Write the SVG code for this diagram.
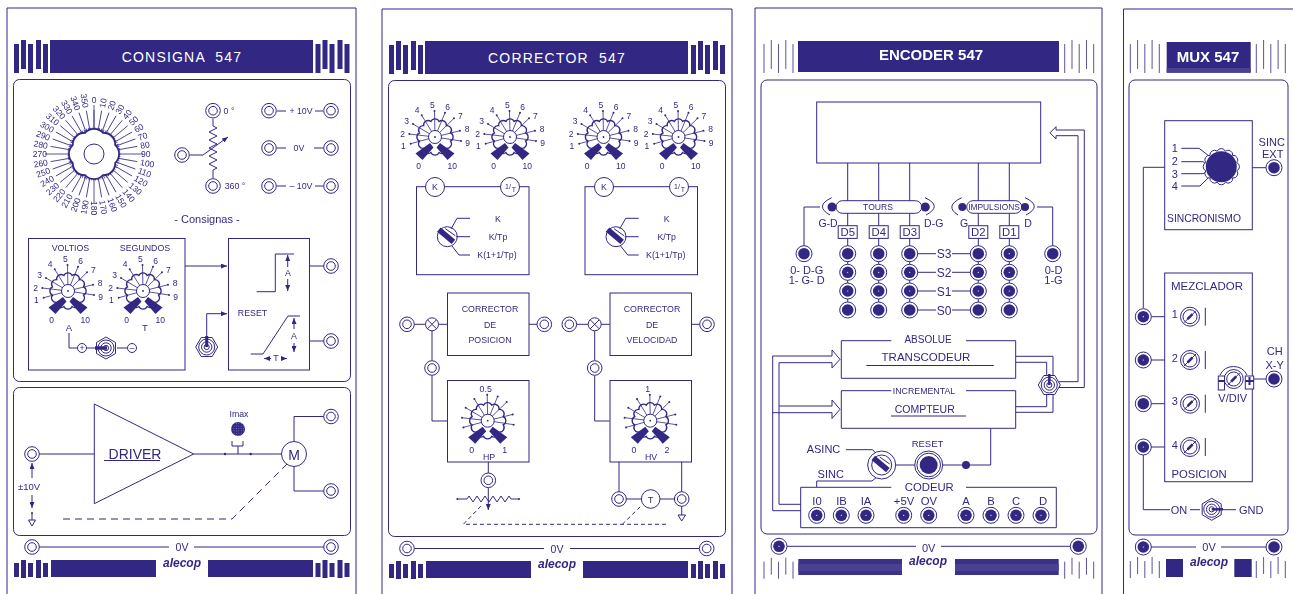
<svg xmlns="http://www.w3.org/2000/svg" width="1293" height="594" viewBox="0 0 1293 594">
<style>
text{font-family:"Liberation Sans",Arial,sans-serif;fill:#312783;text-anchor:middle}
.l{fill:none;stroke:#312783;stroke-width:1}
.n{fill:#fff;stroke:#312783;stroke-width:1}
.d{fill:#312783}
.h{font-size:14px;fill:#fff;white-space:pre;letter-spacing:1.2px}
.hb{font-size:15px;fill:#fff;font-weight:bold}
.a{marker-end:url(#ar)}
.kn{font-size:8.5px}
.f7{font-size:7px}.f8{font-size:8.800px}.f9{font-size:9.500px}.f105{font-size:10.500px}.f10{font-size:11px}.f11{font-size:11.300px}.f12{font-size:12px}
.s{text-anchor:start;font-size:8.5px}.e{text-anchor:end;font-size:8.5px}
.logo{font-size:12px;font-weight:bold;font-style:italic}
</style>
<defs>
<marker id="ar" markerUnits="userSpaceOnUse" markerWidth="6" markerHeight="5" refX="6" refY="2.5" orient="auto"><path d="M0 0L6 2.5L0 5z" fill="#312783"/></marker>
<g id="jack"><circle class="n" r="7.3"/><circle class="n" r="4.3"/></g>
<g id="jf"><circle class="n" r="8"/><circle class="d" r="5.8"/></g>
<g id="jd"><circle class="n" r="8"/><circle class="d" r="5.8"/><circle r=".6" fill="#fff"/></g>
<g id="hex"><polygon class="n" points="11,0 5.5,9.5 -5.5,9.5 -11,0 -5.5,-9.5 5.5,-9.5"/><circle class="l" r="8"/><circle class="l" r="5.2"/><circle class="l" r="2.6"/></g>
<g id="knob">
<path class="n" style="stroke-width:1.3" d="M4.100-15.500A4.500 4.500 0 0 1 11.300-11.300A4.500 4.500 0 0 1 15.500-4.100A4.500 4.500 0 0 1 15.500 4.100A4.500 4.500 0 0 1 11.300 11.300A4.500 4.500 0 0 1 4.100 15.500A4.500 4.500 0 0 1-4.100 15.500A4.500 4.500 0 0 1-11.300 11.300A4.500 4.500 0 0 1-15.500 4.100A4.500 4.500 0 0 1-15.500-4.100A4.500 4.500 0 0 1-11.300-11.300A4.500 4.500 0 0 1-4.100-15.500A4.500 4.500 0 0 1 4.100-15.500z"/>
<path class="l" style="stroke-width:.8" d="M0 0L-24.3 6.7M0 0L-25.7-3M0 0L-22-13M0 0L-13.3-21.7M0 0L-.5-26M0 0L10-24.3M0 0L19-18.7M0 0L25-6.3M0 0L26 4"/>
<g class="d"><circle cx="-24.3" cy="6.7" r="1"/><circle cx="-25.7" cy="-3" r="1"/><circle cx="-22" cy="-13" r="1"/><circle cx="-13.3" cy="-21.7" r="1"/><circle cx="-.5" cy="-26" r="1"/><circle cx="10" cy="-24.3" r="1"/><circle cx="19" cy="-18.7" r="1"/><circle cx="25" cy="-6.3" r="1"/><circle cx="26" cy="4" r="1"/></g>
<circle class="n" r="6.5"/><circle class="d" r=".9"/>
<polygon class="d" points="-5,6 -1.5,10.5 -12.5,23 -19.5,16.5"/>
<polygon class="d" points="5,6 1.5,10.5 12.5,23 19.5,16.5"/>
</g>
<g id="sel"><circle class="n" r="10"/><rect class="d" x="-11" y="-2.8" width="19" height="5.6" transform="rotate(40)"/><path class="l" d="M-2-8L8-1"/></g>
<g id="trim"><circle class="n" r="9.5"/><circle class="l" r="7"/><path class="l" d="M-6 6L6-6"/><path d="M-2.5 2.5L2.5-2.5" stroke="#312783" stroke-width="2.5"/></g>
<g id="bt"><rect class="d" x="0" y="4" width="5" height="29"/><rect class="d" x="7" y="0" width="5" height="29"/><rect class="d" x="14" y="4" width="5" height="29"/><rect class="d" x="22" y="0" width="5" height="29"/><rect class="d" x="29" y="4" width="5" height="29"/></g>
<g id="bb"><rect class="d" x="0" y="3" width="5" height="14"/><rect class="d" x="7" y="0" width="5" height="18"/><rect class="d" x="14" y="3" width="5" height="14"/><rect class="d" x="22" y="0" width="5" height="18"/><rect class="d" x="29" y="3" width="5" height="14"/></g>
<path id="lt" fill="none" stroke="#312783" stroke-width=".8" d="M0 4V33M7.3 0V29M14.5 4V33M21.8 0V29M29 4V33"/>
<path id="lb" fill="none" stroke="#312783" stroke-width=".8" d="M0 4V21M7.3 0V17M14.5 4V21M21.8 0V17M29 4V21"/>
<pattern id="dots" width="2.4" height="2.4" patternUnits="userSpaceOnUse"><rect width="2.4" height="2.4" fill="#312783"/><circle cx="1.2" cy="1.2" r=".5" fill="#8a84bd"/></pattern>
</defs>
<g opacity=".995">
<g id="panels">
<path class="l" d="M7 594V8H356V594"/>
<path class="l" d="M382 594V9H732V594"/>
<path class="l" d="M755 594V8H1102V594"/>
<path class="l" d="M1123.5 594V9H1293"/>
<rect class="l" x="13.500" y="79.500" width="337" height="302" rx="6"/>
<rect class="l" x="13.500" y="387.500" width="337" height="148" rx="6"/>
<rect class="l" x="388.500" y="80.500" width="337" height="456" rx="6"/>
<rect class="l" x="761" y="80" width="336" height="454" rx="6"/>
<rect class="l" x="1129" y="80" width="159" height="455" rx="6"/>
</g>

<g id="connectors">
<path class="l" d="M213 119V126l4 2-8 4 8 4-8 4 8 4-8 4 8 4-8 4 8 4-8 4 8 4-4 2V178"/>
<path class="l a" d="M190 155H203L228 137"/>
<path class="l" d="M277 111H286M315 111H323M277 148H286M314 148H323M277 186H286M315 186H323"/>
<path class="l a" d="M185 266H227"/>
<path class="l" d="M309.500 266H324M309.500 341H324"/>
<path class="l" d="M256.700 291.700H275.300V254H294M250.700 354H263L288 316H300"/>
<path class="l a" d="M287.700 267V255"/><path class="l a" d="M287.700 279V291"/>
<path class="l a" d="M294 329V318"/><path class="l a" d="M294 343V352"/>
<path class="l a" d="M271 358.500H264"/><path class="l a" d="M281 358.500H287"/>
<path class="l" d="M69 333V348H77M87 348H95M117 348H127"/>
<path class="l a" d="M206.700 340V313.700H227"/>
<path class="l" d="M39 454H94M193.700 454H281.500M232 441V446H243V441M238 446V454M294 441V416.500H324M294 467V491H324"/>
<path class="l a" d="M32 478V463"/><path class="l a" d="M32 495V508"/>
<path class="l" d="M32 513V520"/>
<path class="l" stroke-dasharray="7 5" d="M63 519H232L288 463"/>
<path class="l" d="M39 547H169M194 547H324"/>
<path class="l" d="M414 324.300H425.500M438.500 324.300H447.300M529 324.300H537M577 324.300H588M601 324.300H609.700M691.300 324.300H700"/>
<path class="l" d="M432 331V360.500M432 375.500V421H447.300M594.700 331V360.500M594.700 375.500V421H609.700"/>
<path class="l" d="M488.300 461.700V473"/>
<path class="l" d="M457.300 499H467l2-3 4 6 4-6 4 6 4-6 4 6 4-6 4 6 4-6 4 6 4-6 2 3H519"/>
<path class="l a" d="M488.300 488V510"/>
<path class="l" d="M619 461.700V492M681.700 461.700V492M626 499H641.500M660 499H675M681.700 506V515"/>
<path class="l" stroke-dasharray="4 3" d="M666 524.300H463.300L482 505M622.300 524.300L641 506"/>
<path class="l" d="M414 548.500H544M570 548.500H699"/>
<path class="l" d="M847.700 163V226M878.700 163V226M909.700 163V226M978.300 163V226M1009.300 163V226"/>
<path class="l" d="M847.700 238V310M878.700 238V310M909.700 238V310M978.300 238V310M1009.300 238V310"/>
<path class="l" d="M909.700 253.700H936M952 253.700H978.300M909.700 272.300H936M952 272.300H978.300M909.700 291H936M952 291H978.300M909.700 310H936M952 310H978.300"/>
<path class="l" d="M820 207H804V246M1037 207H1052.700V246"/>
<path class="l" d="M1056 130H1084.300V387.500H1058M1056 135.700H1078V381.700H1058"/>
<path class="l" d="M832 356H772.700V510.700H800.700M832 362.700H779V504.300H800.700M779 406H832M772.700 412.700H832"/>
<path class="l" d="M1015.700 356.300H1053V412.300H1015.700M1015.700 362.300H1046.700V406.700H1015.700"/>
<path class="l" d="M990.700 428.300V465H942M915 465H895"/>
<path class="l" d="M846 449.700H872.700L878 456M816.700 487V481H872L878 476"/>
<path class="l" d="M787 546.300H916M941 546.300H1070"/>
<path class="l" d="M1164.700 167.300H1143.300V308M1252.300 167.700H1266"/>
<path class="l" d="M1181.300 148.300H1199L1209 156M1181.300 161.700H1203L1206 164M1181.300 173.700H1203L1206 172M1181.300 186H1200L1209 177"/>
<path class="l" d="M1151 316.700H1164.700M1151 360H1164.700M1151 403.700H1164.700M1151 447H1164.700"/>
<path class="l" d="M1253 379H1266"/>
<path class="l" d="M1143.300 455V509.700H1170M1190 509.700H1200M1223 509.700H1236"/>
<path class="l" d="M1151 547H1196M1221 547H1266"/>
</g>

<g id="consigna-header">
<use href="#bt" x="14" y="40"/><use href="#bt" x="315.500" y="40"/>
<rect class="d" x="50" y="40" width="263" height="33"/>
<text class="h" x="182" y="62">CONSIGNA  547</text>
</g>
<g id="dial">
<g transform="translate(94 154)">
<g stroke="#312783" stroke-width=".8">
<path id="tk" d="M0-22V-44"/>
<use href="#tk" transform="rotate(10)"/><use href="#tk" transform="rotate(20)"/><use href="#tk" transform="rotate(30)"/><use href="#tk" transform="rotate(40)"/><use href="#tk" transform="rotate(50)"/><use href="#tk" transform="rotate(60)"/><use href="#tk" transform="rotate(70)"/><use href="#tk" transform="rotate(80)"/><use href="#tk" transform="rotate(100)"/><use href="#tk" transform="rotate(110)"/><use href="#tk" transform="rotate(120)"/><use href="#tk" transform="rotate(130)"/><use href="#tk" transform="rotate(140)"/><use href="#tk" transform="rotate(150)"/><use href="#tk" transform="rotate(160)"/><use href="#tk" transform="rotate(170)"/><use href="#tk" transform="rotate(190)"/><use href="#tk" transform="rotate(200)"/><use href="#tk" transform="rotate(210)"/><use href="#tk" transform="rotate(220)"/><use href="#tk" transform="rotate(230)"/><use href="#tk" transform="rotate(240)"/><use href="#tk" transform="rotate(250)"/><use href="#tk" transform="rotate(260)"/><use href="#tk" transform="rotate(280)"/><use href="#tk" transform="rotate(290)"/><use href="#tk" transform="rotate(300)"/><use href="#tk" transform="rotate(310)"/><use href="#tk" transform="rotate(320)"/><use href="#tk" transform="rotate(330)"/><use href="#tk" transform="rotate(340)"/><use href="#tk" transform="rotate(350)"/>
<path d="M0-49V49M-49 0H49"/>
<circle r="24.500" fill="none" stroke-width="4" stroke-dasharray=".7 1.438"/>
</g>
<path fill="#fff" stroke="#312783" stroke-width="1.8" d="M8.800-21.250A12 12 0 0 1 21.250-8.800A12 12 0 0 1 21.250 8.800A12 12 0 0 1 8.800 21.250A12 12 0 0 1-8.800 21.250A12 12 0 0 1-21.250 8.800A12 12 0 0 1-21.250-8.800A12 12 0 0 1-8.800-21.250A12 12 0 0 1 8.800-21.250z"/>
<circle class="l" r="10"/>
<text class="kn" x="0" y="-51.500">0</text>
<text class="s" x="47" y="3" transform="rotate(-80)">10</text><text class="s" x="47" y="3" transform="rotate(-70)">20</text><text class="s" x="47" y="3" transform="rotate(-60)">30</text><text class="s" x="47" y="3" transform="rotate(-50)">40</text><text class="s" x="47" y="3" transform="rotate(-40)">50</text><text class="s" x="47" y="3" transform="rotate(-30)">60</text><text class="s" x="47" y="3" transform="rotate(-20)">70</text><text class="s" x="47" y="3" transform="rotate(-10)">80</text><text class="s" x="47" y="3">90</text><text class="s" x="47" y="3" transform="rotate(10)">100</text><text class="s" x="47" y="3" transform="rotate(20)">110</text><text class="s" x="47" y="3" transform="rotate(30)">120</text><text class="s" x="47" y="3" transform="rotate(40)">130</text><text class="s" x="47" y="3" transform="rotate(50)">140</text><text class="s" x="47" y="3" transform="rotate(60)">150</text><text class="s" x="47" y="3" transform="rotate(70)">160</text><text class="s" x="47" y="3" transform="rotate(80)">170</text><text class="s" x="47" y="3" transform="rotate(90)">180</text>
<text class="e" x="-47" y="3" transform="rotate(-80)">190</text><text class="e" x="-47" y="3" transform="rotate(-70)">200</text><text class="e" x="-47" y="3" transform="rotate(-60)">210</text><text class="e" x="-47" y="3" transform="rotate(-50)">220</text><text class="e" x="-47" y="3" transform="rotate(-40)">230</text><text class="e" x="-47" y="3" transform="rotate(-30)">240</text><text class="e" x="-47" y="3" transform="rotate(-20)">250</text><text class="e" x="-47" y="3" transform="rotate(-10)">260</text><text class="e" x="-47" y="3">270</text><text class="e" x="-47" y="3" transform="rotate(10)">280</text><text class="e" x="-47" y="3" transform="rotate(20)">290</text><text class="e" x="-47" y="3" transform="rotate(30)">300</text><text class="e" x="-47" y="3" transform="rotate(40)">310</text><text class="e" x="-47" y="3" transform="rotate(50)">320</text><text class="e" x="-47" y="3" transform="rotate(60)">330</text><text class="e" x="-47" y="3" transform="rotate(70)">340</text><text class="e" x="-47" y="3" transform="rotate(80)">350</text>
</g>
</g>
<g id="consigna-pot">
<use href="#jack" x="213" y="110.700"/><use href="#jack" x="213" y="186"/><use href="#jack" x="182" y="155"/>
<text class="f8" x="229" y="114">0 °</text><text class="f8" x="235" y="189">360 °</text>
</g>
<g id="consigna-outputs">
<use href="#jack" x="269" y="110.700"/><use href="#jack" x="331" y="110.700"/><use href="#jack" x="269" y="148"/><use href="#jack" x="331" y="148"/><use href="#jack" x="269" y="186"/><use href="#jack" x="331" y="186"/>
<text class="f8" x="301" y="114">+ 10V</text><text class="f8" x="299" y="151">0V</text><text class="f8" x="301" y="189">– 10V</text>
<text class="f10" x="207" y="222.500">- Consignas -</text>
</g>
<g id="voltios-box">
<rect class="l" x="28.500" y="238.500" width="156.500" height="131.500"/>
<text class="f8" x="70.500" y="251">VOLTIOS</text><text class="f8" x="145" y="251">SEGUNDOS</text>
<use href="#knob" x="68" y="291"/><use href="#knob" x="143" y="291"/>
<g class="kn" transform="translate(68 291)"><text x="-31.700" y="11.800">1</text><text x="-32.300" y="-.2">2</text><text x="-28.300" y="-13.500">3</text><text x="-18" y="-24.200">4</text><text x="-2.700" y="-29.500">5</text><text x="12.700" y="-27.500">6</text><text x="25.300" y="-18.200">7</text><text x="32" y="-5.500">8</text><text x="32.700" y="8.500">9</text><text x="-16.300" y="31.800">0</text><text x="17.300" y="31.800">10</text></g>
<g class="kn" transform="translate(143 291)"><text x="-31.700" y="11.800">1</text><text x="-32.300" y="-.2">2</text><text x="-28.300" y="-13.500">3</text><text x="-18" y="-24.200">4</text><text x="-2.700" y="-29.500">5</text><text x="12.700" y="-27.500">6</text><text x="25.300" y="-18.200">7</text><text x="32" y="-5.500">8</text><text x="32.700" y="8.500">9</text><text x="-16.300" y="31.800">0</text><text x="17.300" y="31.800">10</text></g>
<text class="f9" x="69" y="330.500">A</text><text class="f9" x="145" y="330.500">T</text>
<circle class="n" cx="82" cy="348" r="4.500"/><circle class="n" cx="132" cy="348" r="4.500"/>
<text class="f8" x="82" y="351">+</text><text class="f8" x="132" y="351">–</text>
<use href="#hex" transform="translate(106 348) rotate(90)"/>
<path stroke="#312783" stroke-width="3.500" d="M95 348H107"/>
</g>
<g id="reset-box">
<rect class="l" x="228.500" y="238.500" width="81" height="131.500"/>
<use href="#jack" x="331" y="266"/><use href="#jack" x="331" y="341"/>
<text class="f8" x="288" y="276">A</text><text class="f8" x="294" y="339">A</text><text class="f8" x="276" y="361">T</text>
<text class="f8" x="252.500" y="316">RESET</text>
<use href="#hex" x="206.700" y="347"/>
<path stroke="#312783" stroke-width="3" d="M206.700 336V347"/>
</g>
<g id="driver">
<polygon class="l" points="94.300,404 94.300,503.700 193.700,454"/>
<text x="135" y="458.500" font-size="14">DRIVER</text>
<path class="l" d="M104 460.500H160"/>
<circle class="d" cx="225" cy="454" r="1.200"/><circle class="d" cx="250.700" cy="454" r="1.200"/>
<text class="f8" x="239" y="417">Imax</text>
<circle cx="238" cy="429" r="7" fill="url(#dots)"/>
<circle class="n" cx="294" cy="454" r="12.500"/>
<text x="294" y="459.500" font-size="14">M</text>
<use href="#jack" x="32" y="454"/><use href="#jack" x="331" y="416.500"/><use href="#jack" x="331" y="491"/>
<text class="f9" x="29" y="490">±10V</text>
<circle class="d" cx="32" cy="513" r="1"/>
<polygon class="n" points="28.500,520 35.500,520 32,526"/>
</g>
<g id="consigna-foot">
<use href="#jack" x="32" y="547"/><use href="#jack" x="331" y="547"/>
<text class="f105" x="182" y="551">0V</text>
<use href="#bb" x="14" y="560"/><use href="#bb" x="315.500" y="560"/>
<rect class="d" x="51" y="560" width="105" height="17"/><rect class="d" x="208" y="560" width="105" height="17"/>
<text class="logo" x="182" y="566.500">alecop</text>
</g>

<g id="corrector-header">
<use href="#bt" x="389" y="41"/><use href="#bt" x="691" y="41"/>
<rect class="d" x="425" y="41" width="263" height="33"/>
<text class="h" x="557" y="63">CORRECTOR  547</text>
</g>
<g id="corrector-knobs">
<use href="#knob" x="435" y="137"/><use href="#knob" x="510" y="137"/><use href="#knob" x="603.500" y="137"/><use href="#knob" x="678.500" y="137"/>
<g class="kn" transform="translate(435 137)"><text x="-31.700" y="11.800">1</text><text x="-32.300" y="-.2">2</text><text x="-28.300" y="-13.500">3</text><text x="-18" y="-24.200">4</text><text x="-2.700" y="-29.500">5</text><text x="12.700" y="-27.500">6</text><text x="25.300" y="-18.200">7</text><text x="32" y="-5.500">8</text><text x="32.700" y="8.500">9</text><text x="-16.300" y="31.800">0</text><text x="17.300" y="31.800">10</text></g>
<g class="kn" transform="translate(510 137)"><text x="-31.700" y="11.800">1</text><text x="-32.300" y="-.2">2</text><text x="-28.300" y="-13.500">3</text><text x="-18" y="-24.200">4</text><text x="-2.700" y="-29.500">5</text><text x="12.700" y="-27.500">6</text><text x="25.300" y="-18.200">7</text><text x="32" y="-5.500">8</text><text x="32.700" y="8.500">9</text><text x="-16.300" y="31.800">0</text><text x="17.300" y="31.800">10</text></g>
<g class="kn" transform="translate(603.500 137)"><text x="-31.700" y="11.800">1</text><text x="-32.300" y="-.2">2</text><text x="-28.300" y="-13.500">3</text><text x="-18" y="-24.200">4</text><text x="-2.700" y="-29.500">5</text><text x="12.700" y="-27.500">6</text><text x="25.300" y="-18.200">7</text><text x="32" y="-5.500">8</text><text x="32.700" y="8.500">9</text><text x="-16.300" y="31.800">0</text><text x="17.300" y="31.800">10</text></g>
<g class="kn" transform="translate(678.500 137)"><text x="-31.700" y="11.800">1</text><text x="-32.300" y="-.2">2</text><text x="-28.300" y="-13.500">3</text><text x="-18" y="-24.200">4</text><text x="-2.700" y="-29.500">5</text><text x="12.700" y="-27.500">6</text><text x="25.300" y="-18.200">7</text><text x="32" y="-5.500">8</text><text x="32.700" y="8.500">9</text><text x="-16.300" y="31.800">0</text><text x="17.300" y="31.800">10</text></g>
</g>
<g id="mode-1">
<rect class="l" x="416.500" y="186.700" width="112.500" height="88"/>
<circle class="n" cx="435" cy="187" r="9.500"/><circle class="n" cx="510" cy="187" r="9.500"/>
<text class="f8" x="435" y="190">K</text><text class="f7" x="507" y="189">1</text><text class="f7" x="510" y="189">/</text><text class="f7" x="514" y="192">T</text>
<use href="#sel" x="447.300" y="236.700"/>
<path class="l" d="M451 229L457 218.300H470M456 236.700H470M452 246L459 255H470"/>
<text class="f8" x="498" y="221.500">K</text><text class="f8" x="498" y="239.500">K/Tp</text><text class="f8" x="497" y="258">K(1+1/Tp)</text>
</g>
<g id="mode-2">
<rect class="l" x="585" y="186.700" width="112.500" height="88"/>
<circle class="n" cx="604" cy="187" r="9.500"/><circle class="n" cx="679" cy="187" r="9.500"/>
<text class="f8" x="604" y="190">K</text><text class="f7" x="676" y="189">1</text><text class="f7" x="679" y="189">/</text><text class="f7" x="683" y="192">T</text>
<use href="#sel" x="616" y="236.700"/>
<path class="l" d="M619.700 229L625.700 218.300H638.700M624.700 236.700H638.700M620.700 246L627.700 255H638.700"/>
<text class="f8" x="666.700" y="221.500">K</text><text class="f8" x="666.700" y="239.500">K/Tp</text><text class="f8" x="665.700" y="258">K(1+1/Tp)</text>
</g>
<g id="corrector-pos">
<rect class="l" x="447.500" y="293" width="81.500" height="62.500"/>
<text class="f8" x="490" y="312">CORRECTOR</text><text class="f8" x="490" y="327.500">DE</text><text class="f8" x="490" y="343">POSICION</text>
<use href="#jack" x="407" y="324.300"/><use href="#jack" x="544.300" y="324.300"/><use href="#jack" x="432" y="368"/>
<circle class="n" cx="432" cy="324.300" r="6.500"/><path class="l" d="M427.500 319.800L436.500 328.800M436.500 319.800L427.500 328.800"/>
</g>
<g id="corrector-vel">
<rect class="l" x="610" y="293" width="81.500" height="62.500"/>
<text class="f8" x="652" y="312">CORRECTOR</text><text class="f8" x="652" y="327.500">DE</text><text class="f8" x="652" y="343">VELOCIDAD</text>
<use href="#jack" x="569.300" y="324.300"/><use href="#jack" x="707" y="324.300"/><use href="#jack" x="594.700" y="368"/>
<circle class="n" cx="594.700" cy="324.300" r="6.500"/><path class="l" d="M590.200 319.800L599.200 328.800M599.200 319.800L590.200 328.800"/>
</g>
<g id="hp-box">
<rect class="l" x="447.500" y="380.500" width="81.500" height="81.500"/>
<use href="#knob" x="487.700" y="420.700"/>
<text class="f8" x="485.700" y="392">0.5</text><text class="f8" x="471.700" y="453">0</text><text class="f8" x="504.700" y="453">1</text><text class="f8" x="489" y="459.500">HP</text>
<use href="#jack" x="488.300" y="480.300"/>
<circle class="d" cx="457.300" cy="499" r="1"/><circle class="d" cx="519" cy="499" r="1"/>
</g>
<g id="hv-box">
<rect class="l" x="610" y="380.500" width="81.500" height="81.500"/>
<use href="#knob" x="650.300" y="420.700"/>
<text class="f8" x="647.700" y="392">1</text><text class="f8" x="634" y="453">0</text><text class="f8" x="667" y="453">2</text><text class="f8" x="651" y="459.500">HV</text>
<use href="#jack" x="619" y="499"/><use href="#jack" x="681.700" y="499"/>
<circle class="n" cx="650.700" cy="499" r="9.300"/><text class="f9" x="650.700" y="502.500">T</text>
<polygon class="n" points="678,515 685.500,515 681.700,521"/>
</g>
<g id="corrector-foot">
<use href="#jack" x="407" y="548.500"/><use href="#jack" x="706.700" y="548.500"/>
<text class="f105" x="557" y="552.500">0V</text>
<use href="#bb" x="389" y="561"/><use href="#bb" x="691" y="561"/>
<rect class="d" x="426" y="561" width="105" height="17"/><rect class="d" x="583" y="561" width="105" height="17"/>
<text class="logo" x="557" y="567.500">alecop</text>
</g>

<g id="encoder-header">
<use href="#lt" x="764" y="40"/><use href="#lt" x="1064.700" y="40"/>
<rect class="d" x="798" y="41" width="261" height="31"/>
<text class="hb" x="931" y="60">ENCODER 547</text>
</g>
<g id="display"><rect class="l" x="816.700" y="102" width="224" height="61"/>
<path class="l" d="M1056 130V126.700L1050 132.800L1056 139V135.700"/></g>
<g id="tours">
<path class="l" d="M831.700 197.700Q814 206 830 215M925 197.700Q943 206 926 215"/>
<rect class="n" x="836" y="200.700" width="85.700" height="12.600" rx="6.300"/>
<text style="font-size:8.600px" x="878" y="209.800">TOURS</text>
<circle class="d" cx="832" cy="207" r="4.500"/><circle class="d" cx="925.300" cy="207" r="4.500"/>
<text class="f105" x="828" y="227">G-D</text><text class="f105" x="933.700" y="227">D-G</text>
</g>
<g id="impulsions">
<path class="l" d="M961.700 197.700Q944 206 958 215M1025 197.700Q1043 206 1026 215"/>
<rect class="n" x="966.700" y="200.700" width="55" height="12.600" rx="6.300"/>
<text style="font-size:8.400px" x="994" y="209.800">IMPULSIONS</text>
<circle class="d" cx="962.300" cy="207" r="4"/><circle class="d" cx="1025" cy="207" r="4"/>
<text class="f105" x="964" y="227">G</text><text class="f105" x="1028" y="227">D</text>
</g>
<g id="d-matrix">
<g class="n"><rect x="838.200" y="225.700" width="19" height="12.700"/><rect x="869.200" y="225.700" width="19" height="12.700"/><rect x="900.200" y="225.700" width="19" height="12.700"/><rect x="968.800" y="225.700" width="19" height="12.700"/><rect x="999.800" y="225.700" width="19" height="12.700"/></g>
<g class="f11"><text x="847.700" y="236">D5</text><text x="878.700" y="236">D4</text><text x="909.700" y="236">D3</text><text x="978.300" y="236">D2</text><text x="1009.300" y="236">D1</text></g>
<use href="#jf" x="847.700" y="253.700"/><use href="#jd" x="847.700" y="272.300"/><use href="#jd" x="847.700" y="291"/><use href="#jf" x="847.700" y="310"/>
<use href="#jf" x="878.700" y="253.700"/><use href="#jd" x="878.700" y="272.300"/><use href="#jd" x="878.700" y="291"/><use href="#jf" x="878.700" y="310"/>
<use href="#jf" x="909.700" y="253.700"/><use href="#jd" x="909.700" y="272.300"/><use href="#jd" x="909.700" y="291"/><use href="#jf" x="909.700" y="310"/>
<use href="#jf" x="978.300" y="253.700"/><use href="#jd" x="978.300" y="272.300"/><use href="#jd" x="978.300" y="291"/><use href="#jf" x="978.300" y="310"/>
<use href="#jd" x="1009.300" y="253.700"/><use href="#jd" x="1009.300" y="272.300"/><use href="#jd" x="1009.300" y="291"/><use href="#jf" x="1009.300" y="310"/>
<text class="f12" x="944" y="258">S3</text><text class="f12" x="944" y="276.500">S2</text><text class="f12" x="944" y="295.500">S1</text><text class="f12" x="944" y="314.500">S0</text>
<use href="#jf" x="804" y="253.700"/><use href="#jf" x="1052.700" y="253.700"/>
<text class="f10" x="806.700" y="273.500">0- D-G</text><text class="f10" x="806.700" y="283.500">1- G- D</text>
<text class="f10" x="1053.500" y="273.500">0-D</text><text class="f10" x="1053.500" y="283.500">1-G</text>
</g>
<g id="transcodeur">
<path class="l" d="M891.300 340.700H841.300V378.300H1015.700V340.700H966"/>
<text style="font-size:10px" x="928" y="342.500">ABSOLUE</text>
<text style="font-size:11.500px" x="926" y="360.500">TRANSCODEUR</text>
<path class="l" d="M866.300 365.500H993.700"/>
<path class="l" d="M832 356V350L840 359.300L832 368V362.700"/>
</g>
<g id="compteur">
<path class="l" d="M891.300 390.700H841.300V428.300H1015.700V390.700H966"/>
<text class="f8" x="924" y="394">INCREMENTAL</text>
<text style="font-size:10.500px" x="924.700" y="413">COMPTEUR</text>
<path class="l" d="M891 416H966"/>
<path class="l" d="M832 406V400L840 409.300L832 418.500V412.700"/>
</g>
<g id="encoder-toggle"><use href="#hex" x="1049.300" y="385"/><path stroke="#312783" stroke-width="2.500" d="M1049.300 374V385"/></g>
<g id="sinc-select">
<circle class="n" cx="881.700" cy="465" r="14"/>
<use href="#sel" x="881.700" y="465"/>
<text class="f10" x="823.500" y="453">ASINC</text><text class="f10" x="830.700" y="478">SINC</text>
</g>
<g id="reset-button">
<circle class="n" cx="928.700" cy="465" r="14"/><circle class="n" cx="928.700" cy="465" r="11.800"/><circle class="d" cx="928.700" cy="465" r="9"/>
<text class="f9" x="927.500" y="446.500">RESET</text>
<circle class="d" cx="966" cy="465" r="4"/>
</g>
<g id="codeur">
<path class="l" d="M891.300 487.300H800.700V527.700H1056.300V487.300H966"/>
<text class="f11" x="929.300" y="491">CODEUR</text>
<g class="f11"><text x="817" y="505">I0</text><text x="841.500" y="505">IB</text><text x="866" y="505">IA</text><text x="904" y="505">+5V</text><text x="929" y="505">OV</text><text x="966" y="505">A</text><text x="991" y="505">B</text><text x="1016" y="505">C</text><text x="1043" y="505">D</text></g>
<use href="#jd" x="816.700" y="515.300"/><use href="#jd" x="841.300" y="515.300"/><use href="#jd" x="866" y="515.300"/><use href="#jd" x="903.700" y="515.300"/><use href="#jd" x="928.700" y="515.300"/><use href="#jd" x="966" y="515.300"/><use href="#jd" x="991" y="515.300"/><use href="#jd" x="1016" y="515.300"/><use href="#jd" x="1041" y="515.300"/>
</g>
<g id="encoder-foot">
<use href="#jd" x="779" y="546.300"/><use href="#jf" x="1078.300" y="546.300"/>
<text class="f10" x="928.700" y="552">0V</text>
<use href="#lb" x="764" y="557.700"/><use href="#lb" x="1064.700" y="557.700"/>
<rect x="798.300" y="559" width="103.700" height="16" fill="#3a3088"/><rect x="798.300" y="564" width="103.700" height="7" fill="#4a4092"/>
<rect x="955" y="559" width="103.700" height="16" fill="#3a3088"/><rect x="955" y="564" width="103.700" height="7" fill="#4a4092"/>
<text class="logo" x="928" y="565">alecop</text>
</g>

<g id="mux-header">
<use href="#lt" x="1130.300" y="40"/><use href="#lt" x="1256.300" y="40"/>
<rect class="d" x="1166.700" y="42" width="84" height="30.700"/>
<rect x="1166.700" y="68" width="84" height="4.700" fill="#4a4092"/>
<text class="hb" x="1208" y="62">MUX 547</text>
</g>
<g id="sincronismo">
<rect class="l" x="1164.700" y="120.700" width="87.600" height="109"/>
<g class="f10"><text x="1174.700" y="152">1</text><text x="1174.700" y="165">2</text><text x="1174.700" y="177.500">3</text><text x="1174.700" y="190">4</text></g>
<path class="n" transform="translate(1221.300 166.700)" d="M4.100-15.500A4.500 4.500 0 0 1 11.300-11.300A4.500 4.500 0 0 1 15.500-4.100A4.500 4.500 0 0 1 15.500 4.100A4.500 4.500 0 0 1 11.300 11.300A4.500 4.500 0 0 1 4.100 15.500A4.500 4.500 0 0 1-4.100 15.500A4.500 4.500 0 0 1-11.300 11.300A4.500 4.500 0 0 1-15.500 4.100A4.500 4.500 0 0 1-15.500-4.100A4.500 4.500 0 0 1-11.300-11.300A4.500 4.500 0 0 1-4.100-15.500A4.500 4.500 0 0 1 4.100-15.500z"/>
<circle class="d" cx="1221.300" cy="166.700" r="15.500"/>
<text class="f10" x="1204" y="222" textLength="74" lengthAdjust="spacingAndGlyphs">SINCRONISMO</text>
<text class="f10" x="1271.700" y="146">SINC</text><text class="f10" x="1272.700" y="157.500">EXT</text>
<use href="#jf" x="1274" y="167.700"/>
</g>
<g id="mezclador">
<rect class="l" x="1164.700" y="273" width="87.600" height="208.700"/>
<text style="font-size:11.500px" x="1207" y="290">MEZCLADOR</text>
<use href="#jd" x="1143.300" y="316.700"/><use href="#jd" x="1143.300" y="360"/><use href="#jf" x="1143.300" y="403.700"/><use href="#jd" x="1143.300" y="447"/>
<use href="#trim" x="1190" y="316.700"/><use href="#trim" x="1190" y="360"/><use href="#trim" x="1190" y="403.700"/><use href="#trim" x="1190" y="447"/>
<path class="l" d="M1205.300 307.700V325.700M1205.300 351V369M1205.300 394.700V412.700M1205.300 438V456"/>
<g class="f10"><text x="1174.700" y="318">1</text><text x="1174.700" y="362">2</text><text x="1174.700" y="405">3</text><text x="1174.700" y="449">4</text></g>
<path class="l" d="M1220 375A15 15 0 0 1 1247 375"/>
<use href="#trim" x="1233.700" y="379"/>
<rect class="n" x="1218.300" y="376" width="6.200" height="14"/><rect class="d" x="1218.300" y="380" width="6.200" height="2"/>
<rect class="n" x="1245.300" y="376" width="8.400" height="13"/><path stroke="#312783" stroke-width="2" d="M1245.300 381H1253.700M1249.500 377V385"/>
<text class="f10" x="1232.700" y="402">V/DIV</text>
<text class="f11" x="1199" y="477.500">POSICION</text>
<text class="f10" x="1274.700" y="355">CH</text><text class="f10" x="1274.700" y="368.500">X-Y</text>
<use href="#jf" x="1274" y="379"/>
</g>
<g id="mux-toggle">
<use href="#hex" transform="translate(1211.700 509.300) rotate(90)"/>
<path stroke="#312783" stroke-width="2.500" d="M1211.700 509.300H1223"/>
<text class="f10" x="1179" y="514">ON</text><text class="f10" x="1251.300" y="514">GND</text>
</g>
<g id="mux-foot">
<use href="#jd" x="1143.300" y="547"/><use href="#jf" x="1274" y="547"/>
<text class="f10" x="1209" y="551">0V</text>
<use href="#lb" x="1130.300" y="557"/><use href="#lb" x="1256.300" y="557"/>
<rect class="d" x="1166" y="559" width="17" height="18"/><rect class="d" x="1234.300" y="559" width="17.400" height="18"/>
<text class="logo" x="1209" y="566">alecop</text>
</g>
</g>
</svg>
